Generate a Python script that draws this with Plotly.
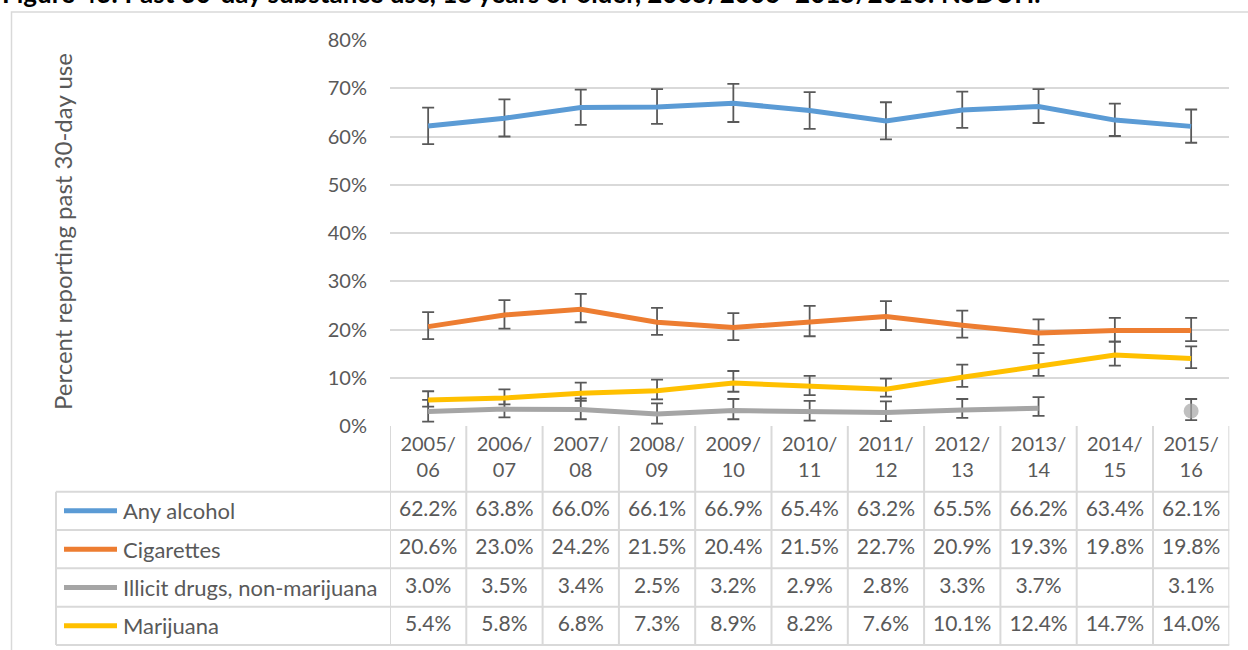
import plotly.graph_objects as go

# ---------------- data ----------------
categories = ["2005/06", "2006/07", "2007/08", "2008/09", "2009/10", "2010/11",
              "2011/12", "2012/13", "2013/14", "2014/15", "2015/16"]
cat_labels = ["2005/<br>06", "2006/<br>07", "2007/<br>08", "2008/<br>09", "2009/<br>10",
              "2010/<br>11", "2011/<br>12", "2012/<br>13", "2013/<br>14", "2014/<br>15",
              "2015/<br>16"]

series_names = ["Any alcohol", "Cigarettes", "Illicit drugs, non-marijuana", "Marijuana"]

alcohol = [62.2, 63.8, 66.0, 66.1, 66.9, 65.4, 63.2, 65.5, 66.2, 63.4, 62.1]
cigarettes = [20.6, 23.0, 24.2, 21.5, 20.4, 21.5, 22.7, 20.9, 19.3, 19.8, 19.8]
illicit = [3.0, 3.5, 3.4, 2.5, 3.2, 2.9, 2.8, 3.3, 3.7, None, 3.1]
marijuana = [5.4, 5.8, 6.8, 7.3, 8.9, 8.2, 7.6, 10.1, 12.4, 14.7, 14.0]

alcohol_err_plus = [3.8, 3.9, 3.7, 3.7, 4.0, 3.8, 3.9, 3.8, 3.6, 3.4, 3.5]
alcohol_err_minus = [3.8, 3.8, 3.6, 3.5, 3.9, 3.8, 3.8, 3.7, 3.4, 3.3, 3.4]
cig_err_plus = [3.0, 3.1, 3.2, 3.0, 3.0, 3.4, 3.2, 3.0, 2.8, 2.6, 2.6]
cig_err_minus = [2.6, 2.8, 2.7, 2.6, 2.6, 2.9, 2.8, 2.6, 2.5, 2.3, 2.2]
illicit_err_plus = [2.4, 2.2, 2.3, 2.2, 2.4, 2.3, 2.3, 2.3, 2.3, 0, 2.5]
illicit_err_minus = [2.1, 1.7, 2.0, 2.0, 1.8, 1.8, 1.8, 1.6, 1.6, 0, 1.9]
mj_err_plus = [1.8, 1.8, 2.2, 2.3, 2.5, 2.2, 2.2, 2.6, 2.7, 2.8, 2.5]
mj_err_minus = [1.4, 1.3, 1.6, 1.8, 1.8, 1.8, 1.5, 2.0, 2.0, 2.2, 2.0]

y_ticks = [0, 10, 20, 30, 40, 50, 60, 70, 80]
y_tick_labels = [f"{t}%" for t in y_ticks]
y_title = "Percent reporting past 30-day use"
title_text = "Figure 43: Past 30-day substance use, 18 years or older, 2005/2006\u20132015/2016: NSDUH."

# ---------------- styling ----------------
colors = ["#5B9BD5", "#ED7D31", "#A5A5A5", "#FFC000"]
FONT = "Lato"
TXT = "#595959"
GRID = "#D9D9D9"
W, H = 1248, 650


def px(x):
    return x / W


def py(y):
    return 1 - y / H


# pixel layout of the table
plot_top, plot_bottom = 40, 426
table_bottom = 645
header_bottom = 491.7
row_h = (table_bottom - header_bottom) / 4
legend_left = 56

fig = go.Figure()

all_series = [alcohol, cigarettes, illicit, marijuana]
errs = [(alcohol_err_plus, alcohol_err_minus), (cig_err_plus, cig_err_minus),
        (illicit_err_plus, illicit_err_minus), (mj_err_plus, mj_err_minus)]
xs = list(range(len(categories)))

for name, vals, (ep, em), col in zip(series_names, all_series, errs, colors):
    sizes = []
    for i, v in enumerate(vals):
        prev_ok = i > 0 and vals[i - 1] is not None
        next_ok = i < len(vals) - 1 and vals[i + 1] is not None
        sizes.append(15 if (v is not None and not prev_ok and not next_ok) else 0)
    fig.add_trace(go.Scatter(
        x=xs, y=vals, name=name, mode="lines+markers",
        line=dict(color=col, width=5),
        marker=dict(size=sizes, color=col, line=dict(width=0)),
        error_y=dict(type="data", symmetric=False, array=ep, arrayminus=em,
                     color="#595959", thickness=1.8, width=6),
        connectgaps=False, showlegend=False, hoverinfo="skip",
    ))

header_center = (plot_bottom + header_bottom) / 2
fig.add_trace(go.Scatter(
    x=xs, y=[header_center] * len(xs), yaxis="y2", mode="text",
    text=cat_labels, textfont=dict(family=FONT, size=20, color=TXT),
    textposition="middle center", showlegend=False, hoverinfo="skip", cliponaxis=False,
))

for r, vals in enumerate(all_series):
    yc = header_bottom + row_h * (r + 0.5)
    fig.add_trace(go.Scatter(
        x=xs, y=[yc] * len(xs), yaxis="y2", mode="text",
        text=["" if v is None else f"{v:.1f}%" for v in vals],
        textfont=dict(family=FONT, size=21, color=TXT),
        textposition="middle center", showlegend=False, hoverinfo="skip", cliponaxis=False,
    ))

shapes = []
line_style = dict(color=GRID, width=2)
for i in range(len(categories) + 1):
    shapes.append(dict(type="line", xref="x", yref="paper", x0=i - 0.5, x1=i - 0.5,
                       y0=py(plot_bottom), y1=py(table_bottom), line=line_style, layer="below"))
for r in range(5):
    yy = header_bottom + row_h * r
    shapes.append(dict(type="line", xref="paper", yref="paper", x0=px(legend_left), x1=px(1229.3),
                       y0=py(yy), y1=py(yy), line=line_style, layer="below"))
shapes.append(dict(type="line", xref="paper", yref="paper", x0=px(legend_left), x1=px(legend_left),
                   y0=py(header_bottom), y1=py(table_bottom), line=line_style, layer="below"))
annotations = []
for r, (name, col) in enumerate(zip(series_names, colors)):
    yc = header_bottom + row_h * (r + 0.5)
    shapes.append(dict(type="line", xref="paper", yref="paper", x0=px(64), x1=px(117),
                       y0=py(yc), y1=py(yc), line=dict(color=col, width=5)))
    annotations.append(dict(text=name, xref="paper", yref="paper", x=px(121), y=py(yc),
                            xanchor="left", yanchor="middle", showarrow=False,
                            font=dict(family=FONT, size=22, color=TXT)))
shapes.append(dict(type="rect", xref="paper", yref="paper", x0=px(11.5), x1=px(1262),
                   y0=py(12), y1=py(662), line=dict(color=GRID, width=1.5), layer="below"))

annotations.append(dict(text=y_title, xref="paper", yref="paper", x=px(63), y=py(232),
                        textangle=-90, showarrow=False, xanchor="center", yanchor="middle",
                        font=dict(family=FONT, size=24, color=TXT)))
annotations.append(dict(text="<b>" + title_text + "</b>", xref="paper", yref="paper",
                        x=0, y=py(-7), xanchor="left", yanchor="middle", showarrow=False,
                        font=dict(family=FONT, size=26, color="#000000")))

fig.update_layout(
    width=W, height=H,
    margin=dict(l=0, r=0, t=0, b=0, pad=0, autoexpand=False),
    paper_bgcolor="white", plot_bgcolor="white",
    xaxis=dict(domain=[px(390), px(1229.3)], range=[-0.5, 10.5], showticklabels=False,
               showgrid=False, zeroline=False, showline=False, ticks="", automargin=False),
    yaxis=dict(domain=[py(plot_bottom), py(plot_top)], range=[0, 80], tickvals=y_ticks,
               ticktext=y_tick_labels, showgrid=True, gridcolor=GRID, gridwidth=1.5,
               zeroline=False, showline=False, ticks="", ticklabelstandoff=22, automargin=False,
               tickfont=dict(family=FONT, size=20, color=TXT)),
    yaxis2=dict(domain=[py(table_bottom), py(plot_bottom)], range=[table_bottom, plot_bottom],
                showticklabels=False, showgrid=False, zeroline=False, showline=False,
                anchor="x", automargin=False),
    shapes=shapes, annotations=annotations, showlegend=False,
)

fig.write_html("out.html", config={"displayModeBar": False},
               post_script="document.body.style.margin='0';")
